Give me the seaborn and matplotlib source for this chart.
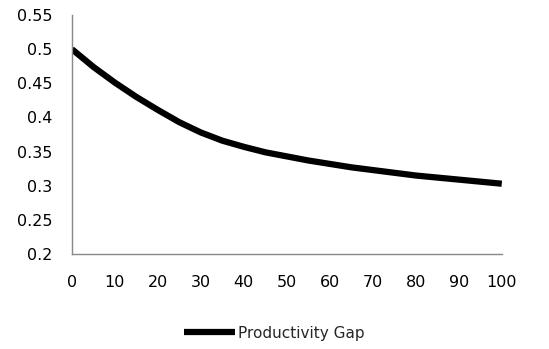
import matplotlib
matplotlib.use("Agg")
import matplotlib.pyplot as plt
import seaborn as sns
import pandas as pd

x_values = [0, 5, 10, 15, 20, 25, 30, 35, 40, 45, 50, 55, 60, 65, 70, 75, 80, 85, 90, 95, 100]
gap_values = [0.500, 0.474, 0.451, 0.430, 0.411, 0.393, 0.378, 0.366, 0.357, 0.349, 0.343,
              0.337, 0.332, 0.327, 0.323, 0.319, 0.315, 0.312, 0.309, 0.306, 0.303]
series_name = "Productivity Gap"
x_ticks = list(range(0, 101, 10))
y_ticks = [0.2, 0.25, 0.3, 0.35, 0.4, 0.45, 0.5, 0.55]
y_tick_labels = ["0.2", "0.25", "0.3", "0.35", "0.4", "0.45", "0.5", "0.55"]

df = pd.DataFrame({"x": x_values, "y": gap_values, "series": series_name})

sns.set_theme(style="white")
plt.rcParams['font.family'] = ['DejaVu Sans']

fig = plt.figure(figsize=(5.49, 3.49), dpi=100)
ax = fig.add_axes([0.131, 0.272, 0.783, 0.685])

sns.lineplot(data=df, x="x", y="y", hue="series", palette=["black"], linewidth=4.5,
             ax=ax, legend=True, solid_joinstyle="round", solid_capstyle="butt")

ax.set_xlim(0, 100)
ax.set_ylim(0.2, 0.55)
ax.set_xticks(x_ticks)
ax.set_xticklabels([str(t) for t in x_ticks])
ax.set_yticks(y_ticks)
ax.set_yticklabels(y_tick_labels)
ax.set_xlabel("")
ax.set_ylabel("")

for s in ["top", "right"]:
    ax.spines[s].set_visible(False)
for s in ["left", "bottom"]:
    ax.spines[s].set_color("#898989")
    ax.spines[s].set_linewidth(1.0)

ax.tick_params(axis="x", length=0, pad=15, labelsize=11.5, labelcolor="black")
ax.tick_params(axis="y", length=0, pad=14, labelsize=11.5, labelcolor="black")

ax.get_legend().remove()
handles, labels = ax.get_legend_handles_labels()
fig.legend(handles, labels, loc="center", bbox_to_anchor=(0.5, 0.045), frameon=False,
           fontsize=11, handlelength=3.3, handletextpad=0.2)

fig.savefig("out.png", dpi=100)
